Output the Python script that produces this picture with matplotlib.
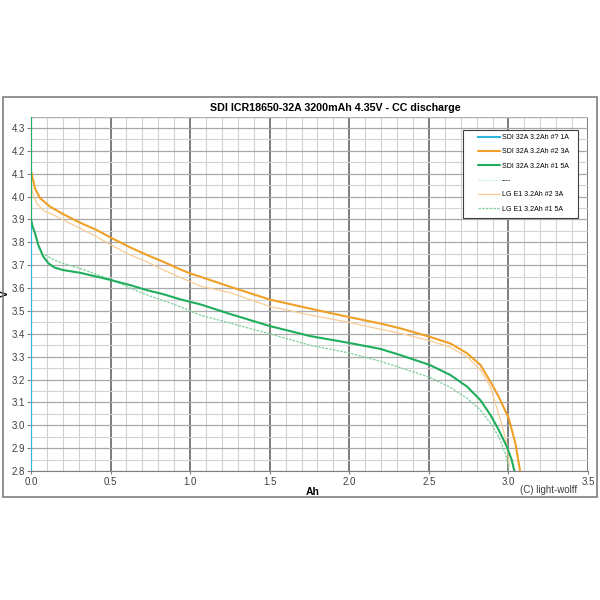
import numpy as np
import matplotlib.pyplot as plt
from matplotlib.patches import Rectangle
from matplotlib.ticker import MultipleLocator

plt.rcParams['font.family'] = ['Liberation Sans', 'DejaVu Sans']

# SDI 32A 3.2Ah #? 1A (only a vertical trace at 0 Ah)
sdi_1a_ah = [0.0, 0.0]
sdi_1a_v = [2.8, 4.35]

# SDI 32A 3.2Ah #2 3A
sdi_3a_ah = [0.0, 0.004, 0.025, 0.057, 0.12, 0.203, 0.308, 0.413, 0.503, 0.623, 0.728,
             0.832, 0.937, 1.0, 1.063, 1.25, 1.5, 1.755, 2.0, 2.195, 2.321, 2.505,
             2.635, 2.74, 2.824, 2.887, 2.939, 3.002, 3.044, 3.073]
sdi_3a_v = [4.11, 4.10, 4.036, 3.993, 3.956, 3.923, 3.886, 3.854, 3.82, 3.778, 3.745,
            3.715, 3.682, 3.664, 3.65, 3.606, 3.55, 3.51, 3.473, 3.445, 3.424, 3.387,
            3.358, 3.315, 3.264, 3.19, 3.125, 3.03, 2.92, 2.80]

# SDI 32A 3.2Ah #1 5A
sdi_5a_ah = [0.0, 0.0, 0.01, 0.025, 0.046, 0.078, 0.11, 0.147, 0.2, 0.308, 0.413, 0.503,
             0.623, 0.728, 0.832, 0.937, 1.063, 1.25, 1.5, 1.755, 2.0, 2.195, 2.321,
             2.505, 2.635, 2.74, 2.824, 2.887, 2.939, 2.99, 3.021, 3.037]
sdi_5a_v = [4.35, 3.90, 3.87, 3.84, 3.788, 3.737, 3.708, 3.69, 3.679, 3.667, 3.65, 3.635,
            3.613, 3.591, 3.573, 3.551, 3.529, 3.487, 3.434, 3.39, 3.36, 3.334, 3.307,
            3.264, 3.22, 3.169, 3.11, 3.045, 2.98, 2.906, 2.848, 2.80]

# unnamed dotted series (no data shown)
blank_ah = []
blank_v = []

# LG E1 3.2Ah #2 3A
lg_3a_ah = [0.0, 0.019, 0.036, 0.078, 0.14, 0.203, 0.308, 0.413, 0.503, 0.623, 0.728,
            0.832, 0.937, 1.063, 1.25, 1.5, 1.755, 2.0, 2.195, 2.321, 2.505, 2.635,
            2.74, 2.824, 2.887, 2.918, 2.95, 2.99, 3.005]
lg_3a_v = [4.05, 4.0, 3.97, 3.94, 3.92, 3.898, 3.861, 3.825, 3.788, 3.745, 3.715,
           3.679, 3.647, 3.609, 3.58, 3.52, 3.482, 3.45, 3.42, 3.402, 3.37, 3.341,
           3.30, 3.242, 3.169, 3.096, 3.023, 2.92, 2.82]

# LG E1 3.2Ah #1 5A
lg_5a_ah = [0.089, 0.147, 0.2, 0.308, 0.413, 0.503, 0.623, 0.728, 0.832, 0.937, 1.063,
            1.25, 1.5, 1.755, 2.0, 2.195, 2.321, 2.505, 2.635, 2.74, 2.824, 2.887,
            2.939, 2.98, 3.0, 3.0]
lg_5a_v = [3.745, 3.723, 3.708, 3.686, 3.66, 3.638, 3.60, 3.57, 3.545, 3.519, 3.482,
           3.447, 3.40, 3.35, 3.316, 3.28, 3.252, 3.21, 3.166, 3.118, 3.067, 3.009,
           2.95, 2.877, 2.82, 2.80]

fig = plt.figure(figsize=(6, 6), dpi=100)
ax = fig.add_axes([31 / 600, 1 - 471 / 600, 557 / 600, (471 - 116.6) / 600])

# chart frame
fig.patches.append(Rectangle((3 / 600, 1 - 497 / 600), 594 / 600, 400 / 600,
                             transform=fig.transFigure, fill=False,
                             edgecolor='#7f7f7f', linewidth=1.2))

kw = dict(solid_joinstyle='round', solid_capstyle='round')
ax.plot(sdi_1a_ah, sdi_1a_v, color='#2cb8e0', lw=1.5, label='SDI 32A 3.2Ah #? 1A', zorder=4)
ax.plot(sdi_3a_ah, sdi_3a_v, color='#f0a026', lw=1.5, label='SDI 32A 3.2Ah #2 3A', zorder=5, **kw)
ax.plot(sdi_5a_ah, sdi_5a_v, color='#1fae5c', lw=1.5, label='SDI 32A 3.2Ah #1 5A', zorder=5, **kw)
ax.plot(blank_ah, blank_v, color='#a8dcea', lw=0.8, ls=':', label='----')
ax.plot(lg_3a_ah, lg_3a_v, color='#f9cc96', lw=0.9, label='LG E1 3.2Ah #2 3A', zorder=4, **kw)
ax.plot(lg_5a_ah, lg_5a_v, color='#7fcf9f', lw=0.9, ls=(0, (2, 1)), label='LG E1 3.2Ah #1 5A', zorder=4)

ax.set_xlim(0, 3.5)
ax.set_ylim(2.8, 4.35)
ax.xaxis.set_major_locator(MultipleLocator(0.5))
ax.xaxis.set_minor_locator(MultipleLocator(0.1))
ax.yaxis.set_minor_locator(MultipleLocator(0.05))
ax.set_yticks(np.arange(2.8, 4.31, 0.1))
ax.set_xticklabels([f'{v:.1f}' for v in ax.get_xticks()])
ax.set_yticklabels([f'{v:.1f}' for v in ax.get_yticks()])

ax.grid(which='major', axis='x', color='#666666', lw=1.2)
ax.grid(which='minor', axis='x', color='#d2d2d2', lw=0.8)
ax.grid(which='major', axis='y', color='#a8a8a8', lw=0.9)
ax.grid(which='minor', axis='y', color='#d2d2d2', lw=0.8)
ax.axhline(4.35, color='#b0b0b0', lw=1.0)
ax.set_axisbelow(True)

for s in ['top', 'right']:
    ax.spines[s].set_visible(False)
ax.spines['bottom'].set_color('#808080')
ax.spines['left'].set_color('#808080')
ax.tick_params(which='major', color='#808080', labelsize=7, labelcolor='#404040')
ax.tick_params(axis='x', which='major', length=2, pad=2)
ax.tick_params(axis='y', which='major', length=3, pad=1.5)
ax.tick_params(which='minor', length=0)

ax.set_title('SDI ICR18650-32A 3200mAh 4.35V - CC discharge', fontsize=7.7,
             fontweight='bold', x=0.546, pad=4)
ax.set_xlabel('Ah', fontsize=7.5, fontweight='bold', va='center')
ax.xaxis.set_label_coords(0.506, -0.059)
ax.set_ylabel('V', fontsize=7.5, fontweight='bold', va='center')
ax.yaxis.set_label_coords(-0.047, 0.5)
fig.text(520 / 600, 1 - 490 / 600, '(C) light-wolff', fontsize=7, color='#404040',
         ha='left', va='center')

# legend box drawn separately so its padding matches the original
ax.add_patch(Rectangle((463 / 600, 1 - 218 / 600), 115 / 600, 88 / 600,
                       transform=fig.transFigure, facecolor='white',
                       edgecolor='#404040', linewidth=0.8, zorder=6, clip_on=False))
leg = ax.legend(loc='upper left', bbox_to_anchor=(478 / 600, 1 - 134 / 600),
                bbox_transform=fig.transFigure, borderaxespad=0, borderpad=0,
                fontsize=5, frameon=False, handlelength=3.17, handletextpad=0.3,
                labelspacing=1.06)
leg.set_zorder(7)

fig.savefig('out.png', dpi=100)
